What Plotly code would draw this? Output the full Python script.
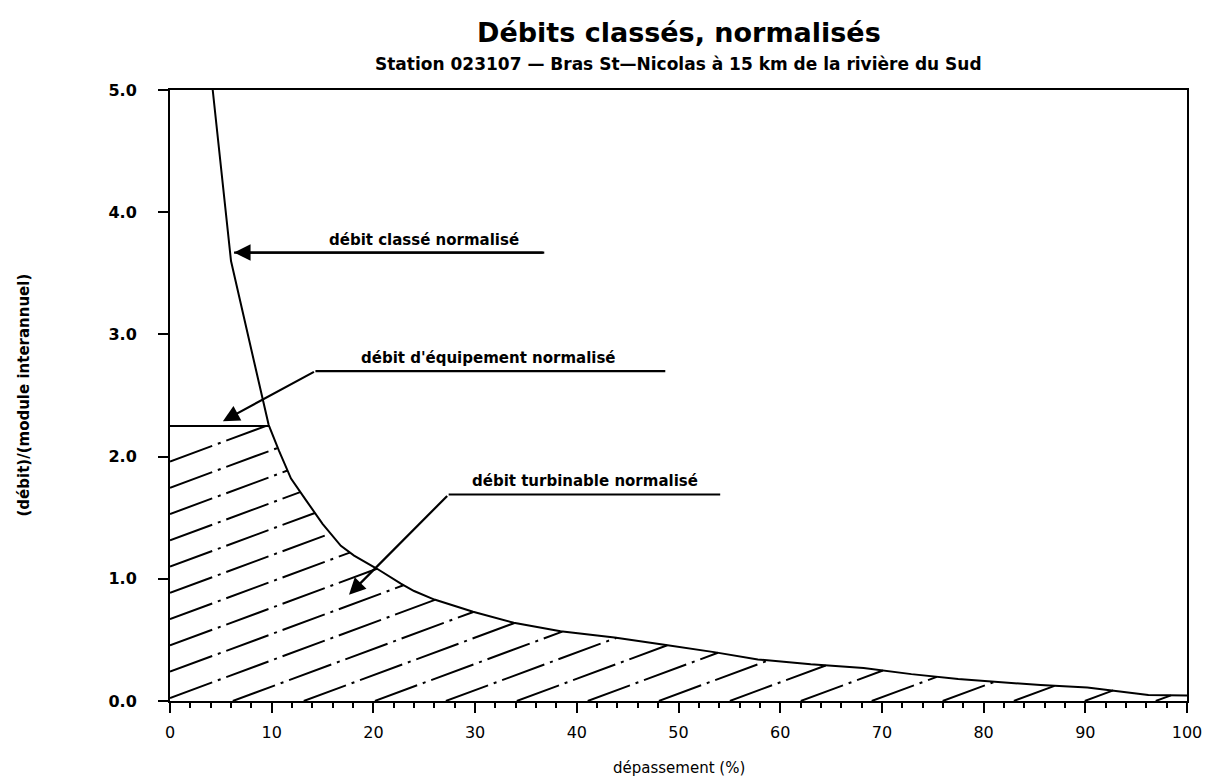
import numpy as np
import plotly.graph_objects as go

# ---- data ----
depassement_pct = [4.2, 6.0, 8.7, 9.7, 10.7, 11.9, 13.4, 15.0, 16.8, 18.1, 20.4, 22.7,
                   24.0, 26.0, 29.8, 33.8, 38.4, 43.7, 48.6, 53.5, 57.8, 63.0, 68.2,
                   72.9, 77.5, 82.4, 85.6, 90.2, 93.5, 96.2, 100.0]
debit_norm = [5.0, 3.60, 2.62, 2.26, 2.05, 1.82, 1.64, 1.45, 1.27, 1.19, 1.08, 0.96,
              0.90, 0.83, 0.73, 0.64, 0.57, 0.52, 0.46, 0.40, 0.34, 0.30, 0.27,
              0.22, 0.18, 0.15, 0.13, 0.11, 0.08, 0.05, 0.045]
debit_equipement = 2.25

x_ticks = list(range(0, 101, 10))
y_ticks = [0, 1, 2, 3, 4, 5]

title = "Débits classés, normalisés"
subtitle = "Station 023107 \u2014 Bras St\u2014Nicolas à 15 km de la rivière du Sud"
x_title = "dépassement (%)"
y_title = "(débit)/(module interannuel)"
labels = ["débit classé normalisé", "débit d'équipement normalisé", "débit turbinable normalisé"]

# ---- geometry / style ----
FONT = "DejaVu Sans"
W, H = 1210, 784
M = dict(l=162, r=31, t=82, b=91)

xs = np.array(depassement_pct)
ys = np.array(debit_norm)

order = np.argsort(ys)
x_cross = float(np.interp(debit_equipement, ys[order], xs[order]))

fig = go.Figure()

# hatching of turbinable area: oblique lines clipped to region under min(curve, equipment)
xx = np.linspace(0, 100, 4001)
upper = np.minimum(np.interp(xx, xs, ys, left=np.inf), debit_equipement)
slope = 0.0308
spacing = 0.215
hx, hy = [], []
c = 1.96
while c > -slope * 100 - 0.01:
    line = c + slope * xx
    inside = (line >= 0) & (line <= upper)
    if inside.any():
        idx = np.where(inside)[0]
        hx += [float(xx[idx[0]]), float(xx[idx[-1]]), None]
        hy += [float(line[idx[0]]), float(line[idx[-1]]), None]
    c -= spacing
fig.add_trace(go.Scatter(x=hx, y=hy, mode="lines",
                         line=dict(color="black", width=2, dash="45px,6px,3px,6px"),
                         hoverinfo="skip", showlegend=False))

fig.add_trace(go.Scatter(x=[0, x_cross], y=[debit_equipement, debit_equipement], mode="lines",
                         line=dict(color="black", width=2), showlegend=False))
fig.add_trace(go.Scatter(x=depassement_pct, y=debit_norm, mode="lines",
                         line=dict(color="black", width=2), showlegend=False))

# ---- label leader lines ----
leaders = [
    # (tip x, tip y, elbow x, elbow y, end x, text center x)
    (6.3, 3.67, 6.3, 3.67, 36.8, 25.0),
    (5.2, 2.29, 14.3, 2.70, 48.7, 31.3),
    (17.6, 0.87, 27.4, 1.69, 54.1, 40.8),
]
for (tx, ty, ex, ey, endx, cx), lab in zip(leaders, labels):
    fig.add_trace(go.Scatter(x=[ex, endx], y=[ey, ey], mode="lines",
                             line=dict(color="black", width=2.2), showlegend=False))
    fig.add_annotation(x=tx, y=ty, ax=endx if ex == tx else ex, ay=ey,
                       xref="x", yref="y", axref="x", ayref="y",
                       text="", showarrow=True, arrowhead=2, arrowsize=1.5,
                       arrowwidth=2.2, arrowcolor="black", standoff=0, startstandoff=0)
    fig.add_annotation(x=cx, y=ey, xref="x", yref="y", text=lab, showarrow=False,
                       yanchor="bottom", yshift=2,
                       font=dict(family=FONT, size=15, color="black", weight="bold"))

# titles
fig.add_annotation(x=0.5, y=1, xref="paper", yref="paper", yshift=58, text=title,
                   showarrow=False, font=dict(family=FONT, size=27, color="black", weight="bold"),
                   yanchor="middle")
fig.add_annotation(x=0.5, y=1, xref="paper", yref="paper", yshift=26, text=subtitle,
                   showarrow=False, font=dict(family=FONT, size=17, color="black", weight="bold"),
                   yanchor="middle")
fig.add_annotation(x=0.5, y=0, xref="paper", yref="paper", yshift=-67, text=x_title,
                   showarrow=False, font=dict(family=FONT, size=15, color="black"),
                   yanchor="middle")
fig.add_annotation(x=0, y=0.5, xref="paper", yref="paper", xshift=-147, text=y_title,
                   textangle=-90, showarrow=False,
                   font=dict(family=FONT, size=15, color="black", weight="bold"), xanchor="center")

fig.update_xaxes(range=[0, 100], tickvals=x_ticks, ticks="outside", ticklen=10, tickwidth=2,
                 tickcolor="black", showline=True, linewidth=2, linecolor="black", mirror=True,
                 showgrid=False, zeroline=False, ticklabelstandoff=6,
                 minor=dict(dtick=2, ticks="outside", ticklen=5, tickwidth=1.5, tickcolor="black"),
                 tickfont=dict(family=FONT, size=16, color="black"))
fig.update_yaxes(range=[0, 5], tickvals=y_ticks, tickformat=".1f", ticks="outside", ticklen=10,
                 tickwidth=2, tickcolor="black", showline=True, linewidth=2, linecolor="black",
                 mirror=True, showgrid=False, zeroline=False, ticklabelstandoff=18,
                 tickfont=dict(family=FONT, size=16, color="black", weight="bold"))

fig.update_layout(width=W, height=H, margin=M, plot_bgcolor="white", paper_bgcolor="white",
                  showlegend=False)
fig.write_html("out.html")
